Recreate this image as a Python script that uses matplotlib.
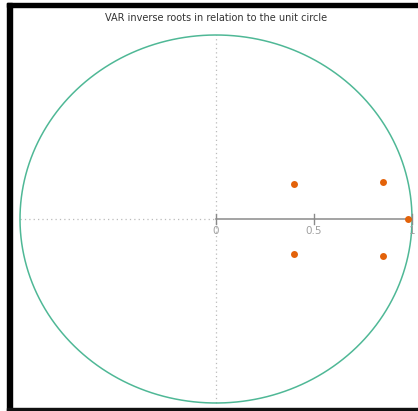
import numpy as np
import matplotlib.pyplot as plt
from matplotlib.patches import Rectangle

# Raices inversas del VAR (parte real e imaginaria)
raiz_real = [0.40, 0.85, 0.98, 0.40, 0.85]
raiz_imag = [0.19, 0.20, 0.00, -0.19, -0.20]

ticks = [0, 0.5, 1]
tick_labels = ["0", "0.5", "1"]
titulo = "VAR inverse roots in relation to the unit circle"

W, H = 418, 411
fig = plt.figure(figsize=(W / 100, H / 100), dpi=100)
ax = fig.add_axes([0, 0, 1, 1])
ax.set_axis_off()

# mapeo pixel -> datos: centro (216, 219), radio 196 x 184 px
cx, cy, rx, ry = 216, 219, 196, 184
ax.set_xlim((0 - cx) / rx, (W - cx) / rx)
ax.set_ylim((cy - H) / ry, (cy - 0) / ry)

# circulo unitario
t = np.linspace(0, 2 * np.pi, 400)
ax.plot(np.cos(t), np.sin(t), color="#4fb896", linewidth=1.1, zorder=2)

# lineas punteadas de referencia
ax.plot([-1, 0], [0, 0], color="#bbbbbb", linestyle=(0, (1, 2.5)), linewidth=0.9, zorder=1)
ax.plot([0, 0], [-1, 1], color="#bbbbbb", linestyle=(0, (1, 2.5)), linewidth=0.9, zorder=1)

# eje horizontal con ticks
ax.plot([0, 1], [0, 0], color="#8a8a8a", linewidth=1.1, zorder=3)
for tk, lb in zip(ticks, tick_labels):
    ax.plot([tk, tk], [-0.025, 0.025], color="#8a8a8a", linewidth=1.0, zorder=3)
    ax.text(tk, -0.04, lb, ha="center", va="top", fontsize=7.5, color="#a0a0a0", zorder=3)

# raices
ax.plot(raiz_real, raiz_imag, "o", color="#e36209", markersize=5, markeredgewidth=0, zorder=4)

fig.text(216 / W, 1 - 18 / H, titulo, ha="center", va="center", fontsize=7, color="#333333")

# marco negro
fig.patches.append(Rectangle((7 / W, 0), 5 / W, 1 - 3 / H, transform=fig.transFigure, color="black", zorder=10))
fig.patches.append(Rectangle((7 / W, 1 - 7 / H), 1, 4 / H, transform=fig.transFigure, color="black", zorder=10))
fig.patches.append(Rectangle((7 / W, 0), 1, 3 / H, transform=fig.transFigure, color="#111111", zorder=10))

fig.savefig("out.png", dpi=100)
